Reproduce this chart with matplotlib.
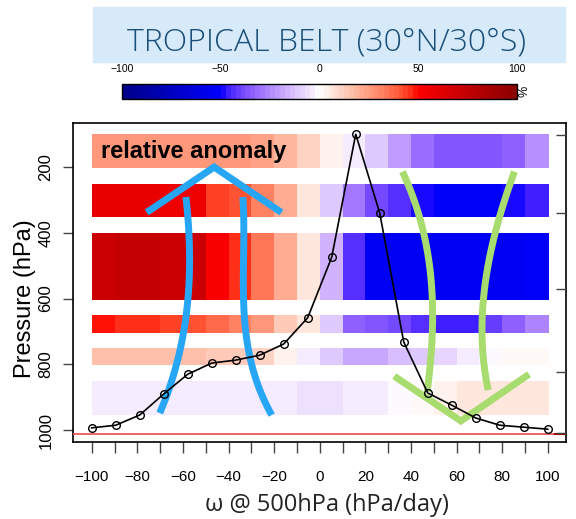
import numpy as np
import matplotlib
matplotlib.use('Agg')
import matplotlib.pyplot as plt
from matplotlib.colors import ListedColormap, Normalize, to_rgb
from matplotlib.cm import ScalarMappable

plt.rcParams['font.family'] = ['Liberation Sans', 'DejaVu Sans']

# omega bins (hPa/day) for the shaded layers
omega_edges = np.arange(-100, 101, 10)

# pressure layers (hPa), top and bottom of each band
band_top = [100, 250, 400, 650, 750, 850]
band_bot = [200, 350, 600, 700, 800, 950]

# relative anomaly (%) per band, columns from -100 to 100
anom_100_200 = [25, 25, 25, 25, 25, 27, 27, 24, 19, 12, 3, -5, -12, -22, -32, -37, -37, -37, -33, -25]
anom_250_350 = [58, 58, 58, 57, 55, 43, 41, 31, 21, 6, -11, -28, -38, -43, -48, -52, -52, -52, -48, -46]
anom_400_600 = [72, 73, 73, 72, 70, 52, 45, 33, 22, 7, -16, -43, -54, -54, -54, -54, -54, -54, -53, -52]
anom_650_700 = [48, 46, 45, 43, 40, 37, 32, 25, 14, 5, -12, -34, -37, -40, -44, -46, -46, -42, -34, -26]
anom_750_800 = [16, 16, 16, 15, 15, 14, 14, 10, 3, -5, -12, -20, -19, -14, -11, -9, -5, -2, 1, 1]
anom_850_950 = [-3, -3, -3, -3, -3, -4, -4, -4, -5, -6, -6, -4, -3, -1, 1, 4, 7, 7, 7, 6]
anomalies = [anom_100_200, anom_250_350, anom_400_600, anom_650_700, anom_750_800, anom_850_950]

# black curve: pressure level of the peak vs omega
curve_omega = np.linspace(-100, 100, 20)
curve_p = [993, 985, 954, 890, 830, 796, 787, 772, 738, 658,
           474, 100, 340, 732, 887, 924, 963, 985, 991, 997]

surface_p = 1012
right_ticks = [103, 340, 571, 824, 1009]

# hand drawn arrows (omega, hPa)
blue_left = [(-58.7, 291), (-57.0, 462), (-57.9, 605), (-60.0, 705), (-62.7, 808), (-67.0, 887), (-70.1, 948)]
blue_right = [(-33.8, 291), (-32.9, 462), (-34.2, 605), (-32.0, 705), (-29.4, 808), (-25.0, 900), (-21.1, 954)]
blue_head = [(-75.9, 338), (-46.3, 200), (-16.8, 338)]
green_left = [(36.4, 214), (43.7, 361), (48.8, 513), (49.5, 605), (49.2, 705), (48.1, 808), (47.3, 883)]
green_right = [(85.3, 214), (78.7, 361), (73.6, 513), (71.1, 605), (71.4, 705), (72.6, 808), (73.6, 878)]
green_head = [(32.7, 836), (61.9, 972), (91.8, 830)]

M = np.array([[0.4124, 0.3576, 0.1805],
              [0.2126, 0.7152, 0.0722],
              [0.0193, 0.1192, 0.9505]])
WHITE = np.array([0.95047, 1.0, 1.08883])


def srgb_to_lab(rgb):
    rgb = np.asarray(rgb, float)
    lin = np.where(rgb <= 0.04045, rgb / 12.92, ((rgb + 0.055) / 1.055) ** 2.4)
    xyz = lin @ M.T / WHITE
    f = np.where(xyz > 0.008856, np.cbrt(xyz), 7.787 * xyz + 16 / 116)
    return np.array([116 * f[1] - 16, 500 * (f[0] - f[1]), 200 * (f[1] - f[2])])


def lab_to_srgb(lab):
    L, a, b = lab
    fy = (L + 16) / 116
    f = np.array([fy + a / 500, fy, fy - b / 200])
    xyz = np.where(f > 0.2069, f ** 3, (f - 16 / 116) / 7.787) * WHITE
    lin = np.clip(np.linalg.inv(M) @ xyz, 0, 1)
    return np.where(lin <= 0.0031308, 12.92 * lin, 1.055 * lin ** (1 / 2.4) - 0.055)


def lab_ramp(colors, stops, n):
    labs = [srgb_to_lab(to_rgb(c)) for c in colors]
    out = []
    for v in np.linspace(stops[0], stops[-1], n):
        k = min(np.searchsorted(stops, v, side='right') - 1, len(stops) - 2)
        t = (v - stops[k]) / (stops[k + 1] - stops[k])
        out.append(lab_to_srgb(labs[k] * (1 - t) + labs[k + 1] * t))
    return ListedColormap(out)


cmap = lab_ramp(['#00008B', '#0000FF', '#FFFFFF', '#FF0000', '#8B0000'],
                [-100, -50, 0, 50, 100], 80)
norm = Normalize(-100, 100)


def smooth(points, n=60):
    w = np.array([q[0] for q in points])
    p = np.array([q[1] for q in points])
    coef = np.polyfit(p, w, 3)
    pp = np.linspace(p.min(), p.max(), n)
    return np.polyval(coef, pp), pp


fig = plt.figure(figsize=(5.76, 5.19), dpi=100)
ax = fig.add_axes([73 / 576, 1 - 442 / 519, 493 / 576, 319 / 519])

for top, bot, row in zip(band_top, band_bot, anomalies):
    ax.pcolormesh(omega_edges, [top, bot], [row], cmap=cmap, norm=norm, shading='flat',
                  edgecolors='face', linewidth=0.4)

ax.text(-96, 152, 'relative anomaly', fontsize=17, fontweight='bold',
        family=['Liberation Sans', 'DejaVu Sans'], ha='left', va='center', zorder=3)

blue = '#27a6f5'
green = '#a9dc6f'
for pts, col in [(blue_left, blue), (blue_right, blue), (green_left, green), (green_right, green)]:
    w, p = smooth(pts)
    ax.plot(w, p, color=col, lw=5, solid_capstyle='butt', zorder=4)
for pts, col in [(blue_head, blue), (green_head, green)]:
    ax.plot([q[0] for q in pts], [q[1] for q in pts], color=col, lw=5,
            solid_capstyle='butt', solid_joinstyle='miter', zorder=4)

ax.axhline(surface_p, color='#f04a4a', lw=1.2, zorder=5)
ax.plot([103, 108.5], [surface_p, surface_p], color='#a00000', lw=1.5, zorder=5)

ax.plot(curve_omega, curve_p, color='black', lw=1.2, marker='o', ms=5.5,
        mfc='none', mec='black', mew=1.0, zorder=6)

ax.set_xlim(-108.2, 108)
ax.set_ylim(1036, 66)
ticks = np.arange(-100, 101, 10)
ax.set_xticks(ticks)
ax.set_xticklabels([(str(t).replace('-', '\u2212') if t % 20 == 0 else '') for t in ticks])
ax.set_yticks([200, 400, 600, 800, 1000])
ax.tick_params(axis='x', length=8, width=1, color='#444444', pad=12, labelsize=11)
ax.tick_params(axis='y', length=7, width=1, color='#444444', pad=7, labelsize=12, labelrotation=90)
for lab in ax.get_yticklabels():
    lab.set_va('center')
for s in ax.spines.values():
    s.set_linewidth(1.2)

ax2 = ax.twinx()
ax2.set_ylim(ax.get_ylim())
ax2.set_yticks(right_ticks)
ax2.set_yticklabels([])
ax2.tick_params(axis='y', direction='in', length=7, width=1, color='#444444')
for s in ax2.spines.values():
    s.set_visible(False)

fig.text(25 / 576, 1 - 299 / 519, 'Pressure (hPa)', rotation=90, fontsize=17,
         ha='center', va='center')
fig.text(327 / 576, 1 - 505 / 519, '\u03c9 @ 500hPa (hPa/day)', fontsize=17,
         family=['Open Sans', 'DejaVu Sans'], ha='center', va='center', color='#222222')

# title banner
fig.patches.append(plt.Rectangle((93 / 576, 1 - 62 / 519), 472 / 576, 55 / 519,
                                 transform=fig.transFigure, color='#d6eafa', zorder=0))
fig.text(326.5 / 576, 1 - 50 / 519, 'TROPICAL BELT (30\u00b0N/30\u00b0S)', fontsize=23,
         family=['Open Sans', 'DejaVu Sans'], fontweight='light',
         color='#1c4f7a', ha='center', va='baseline')

# colour bar
cax = fig.add_axes([122 / 576, 1 - 99 / 519, 395 / 576, 15 / 519])
cb = fig.colorbar(ScalarMappable(norm=norm, cmap=cmap), cax=cax, orientation='horizontal')
cb.set_ticks([-100, -50, 0, 50, 100])
cax.xaxis.set_ticks_position('top')
cax.tick_params(length=0, pad=7, labelsize=7.5)
cb.outline.set_linewidth(1)
fig.text(525 / 576, 1 - 91 / 519, '%', rotation=90, fontsize=9, ha='center', va='center')

fig.savefig('out.png', dpi=100)
